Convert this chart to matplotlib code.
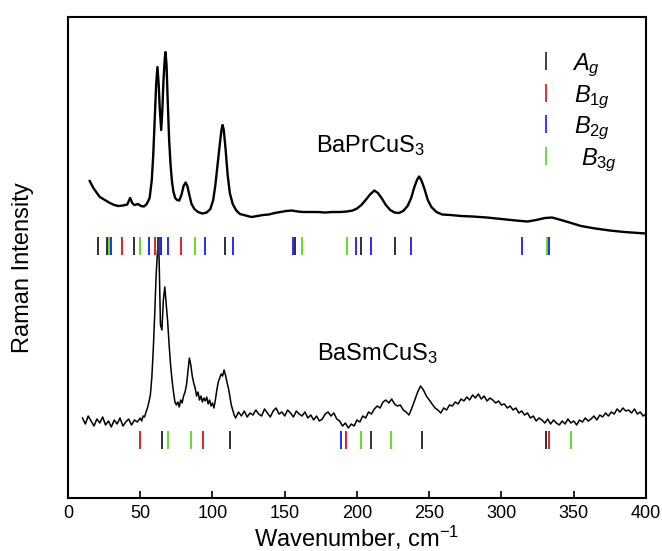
import matplotlib
matplotlib.use("Agg")
import matplotlib.pyplot as plt
import numpy as np

plt.rcParams['font.family'] = ['Liberation Sans', 'DejaVu Sans']
plt.rcParams['mathtext.fontset'] = 'custom'
plt.rcParams['mathtext.rm'] = 'Liberation Sans'
plt.rcParams['mathtext.it'] = 'Liberation Sans:italic'

# BaPrCuS3 spectrum (wavenumber, intensity in arbitrary units)
pr_x = [15, 17.6, 20, 22, 25, 29, 32, 35, 38, 41, 43, 44.5, 46, 48.5, 50.5, 52.5, 54.5, 56.5, 58, 59,
        60, 61, 61.9, 62.8, 63.5, 64.5, 65.3, 66.1, 67, 67.5, 68.2, 69, 70, 71, 72, 73, 74.2, 75.5, 77, 78.5,
        80, 81.4, 82.6, 84, 85.5, 87.5, 90, 93, 96, 98.5, 100.5, 102, 103.5, 105, 106.2, 107, 107.8, 109, 110.5, 112,
        114, 116.5, 119, 123, 127, 131, 135, 139, 143, 147, 151, 155, 159, 163, 168, 173, 178, 183, 188, 193,
        197, 200, 203, 206, 209, 212, 214.5, 217, 220, 223, 226, 229, 232, 235, 237.5, 239.5, 241.5, 243, 244.5, 246.5,
        249, 251.5, 255, 259, 265, 272, 280, 290, 300, 310, 318, 324, 330, 335, 340, 346, 355, 365, 375, 385,
        392, 400]
pr_y = [319, 312, 307, 303, 300.5, 297, 295, 294, 294.5, 295.5, 302, 297, 295, 296, 294, 293.5, 296, 302, 320, 345,
        380, 415, 433, 415, 392, 370, 390, 420, 442, 448, 435, 400, 360, 335, 318, 308, 302, 300, 299.5, 305,
        314, 317.5, 314, 305, 296, 291, 288, 286.5, 287.5, 291, 300, 315, 335, 355, 370, 375, 370, 352, 325, 307,
        296, 289.5, 286, 284.5, 283, 284, 285, 285.5, 287, 288, 289, 289.5, 288.5, 288, 288, 288, 287.5, 288, 288, 288.5,
        289.5, 291.5, 295, 300, 305.5, 309.5, 307, 302, 295, 290, 287.5, 287, 289, 294, 302, 312, 320, 323.5, 320, 312,
        300, 293, 288, 285.5, 285, 284, 283.5, 282.5, 281, 279.5, 278.5, 280, 282, 282.5, 280.5, 278, 274, 271.5, 269.5, 268,
        267.3, 266.5]

# BaSmCuS3 spectrum
sm_x = list(range(10, 50, 2)) + list(range(50, 117)) + list(range(118, 401, 2))
sm_y = [82, 76, 84, 79, 74, 81, 77, 83, 75, 79, 73, 80, 76, 82, 74, 78, 81, 75, 80, 78,
        82, 79, 84, 83, 88, 92, 98, 105, 122, 150, 185, 225, 250, 245, 175, 170, 200, 213, 196, 178,
        155, 135, 120, 108, 98, 95, 98, 93, 100, 97, 104, 108, 115, 128, 142, 135, 124, 117, 112, 104,
        108, 100, 104, 98, 102, 99, 103, 96, 100, 94, 97, 92, 100, 110, 118, 122, 126, 124, 130, 125,
        118, 112, 104, 95, 90, 85, 82,
        88, 84, 89, 83, 87, 85, 90, 86, 84, 91, 87, 83, 89, 92, 86, 88, 84, 90, 87, 83,
        89, 86, 84, 88, 82, 85, 80, 84, 79, 81, 86, 88, 84, 87, 81, 79, 74, 77, 72, 76,
        74, 80, 78, 84, 82, 88, 86, 91, 94, 92, 98, 100, 97, 101, 96, 94, 95, 90, 88, 85,
        92, 100, 108, 114, 110, 104, 100, 96, 92, 90, 87, 92, 90, 95, 94, 98, 96, 101, 99, 103,
        100, 105, 102, 106, 101, 104, 99, 102, 100, 97, 99, 95, 96, 92, 94, 90, 92, 87, 89, 85,
        87, 82, 84, 79, 82, 80, 77, 81, 76, 80, 77, 75, 79, 76, 81, 77, 79, 75, 80, 78,
        82, 79, 81, 84, 80, 85, 83, 87, 84, 88, 86, 91, 88, 92, 89, 90, 87, 91, 86, 88,
        84, 86]

# calculated mode positions (cm-1)
modes_pr = {
    'Ag': [21.0, 26.8, 45.8, 62.0, 64.6, 108.8, 156.9, 203.1, 226.0, 332.3],
    'B1g': [37.2, 60.1, 77.9],
    'B2g': [29.8, 55.9, 63.6, 68.9, 95.0, 113.9, 155.8, 199.0, 209.4, 237.1, 314.0, 333.2],
    'B3g': [28.7, 49.9, 88.0, 162.0, 193.2, 331.4],
}
modes_sm = {
    'Ag': [64.9, 112.3, 209.4, 245.2, 331.1],
    'B1g': [49.9, 93.1, 192.7, 333.0],
    'B2g': [189.2],
    'B3g': [68.9, 85.0, 203.1, 223.2, 348.0],
}
mode_labels = ['$A_g$', '$B_{1g}$', '$B_{2g}$', '$B_{3g}$']
mode_colors = {'Ag': '#303030', 'B1g': '#e0202a', 'B2g': '#2a2aff', 'B3g': '#66dd22'}

fig = plt.figure(figsize=(6.62, 5.51), dpi=100)
ax = fig.add_axes([0.1027, 0.0962, 0.8731, 0.8729])

ax.plot(pr_x, pr_y, color='black', lw=1.7)
ax.plot(sm_x, sm_y, color='black', lw=1.1)

# mode bars
for k, vals in modes_pr.items():
    ax.vlines(vals, 245, 263, color=mode_colors[k], lw=1.4)
for k, vals in modes_sm.items():
    ax.vlines(vals, 51, 69, color=mode_colors[k], lw=1.4)

# key
key_y = [430, 398, 367, 335]
key_x = [349, 350, 350, 355]
for i, k in enumerate(['Ag', 'B1g', 'B2g', 'B3g']):
    ax.vlines(330.7, key_y[i], key_y[i] + 18, color=mode_colors[k], lw=1.3)
    ax.text(key_x[i], key_y[i], mode_labels[i], fontsize=17, va='baseline', ha='left')

ax.text(171.5, 348, 'BaPrCuS$_3$', fontsize=17, va='baseline', ha='left')
ax.text(172.5, 140, 'BaSmCuS$_3$', fontsize=17, va='baseline', ha='left')

ax.set_xlim(0, 400)
ax.set_ylim(2, 483)
ax.set_xticks(np.arange(0, 401, 50))
ax.set_yticks([])
ax.tick_params(axis='x', direction='in', length=5, width=1.2, labelsize=13, pad=5)
for s in ax.spines.values():
    s.set_linewidth(1.5)
ax.set_xlabel('Wavenumber, cm$^{-1}$', fontsize=17, labelpad=1)
ax.set_ylabel('Raman Intensity', fontsize=17)
ax.yaxis.set_label_coords(-0.058, 0.48)

fig.savefig('out.png', dpi=100)
